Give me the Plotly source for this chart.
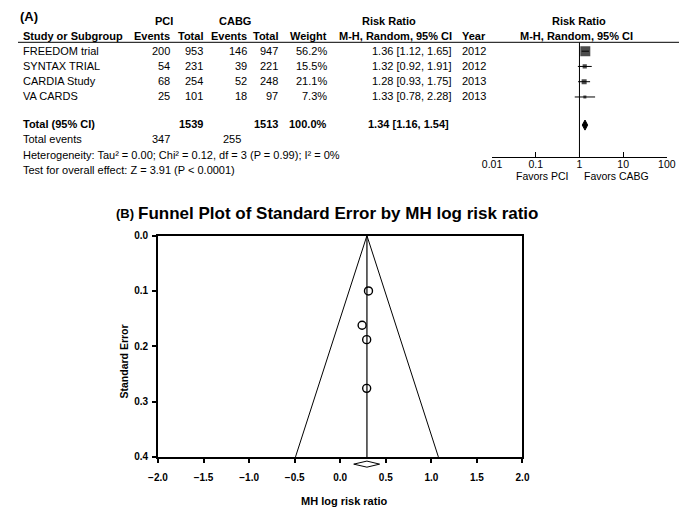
import plotly.graph_objects as go

# the page body adds an 8px margin, so the figure is drawn 8px smaller and shifted
OFF = 8
W, H = 688 - OFF, 514 - OFF
FONT = 'Liberation Sans, Arial, sans-serif'

# --- (A) forest plot data ---
studies = ['FREEDOM trial', 'SYNTAX TRIAL', 'CARDIA Study', 'VA CARDS']
pci_events = [200, 54, 68, 25]
pci_total = [953, 231, 254, 101]
cabg_events = [146, 39, 52, 18]
cabg_total = [947, 221, 248, 97]
weights = [56.2, 15.5, 21.1, 7.3]
rr = [1.36, 1.32, 1.28, 1.33]
ci_low = [1.12, 0.92, 0.93, 0.78]
ci_high = [1.65, 1.91, 1.75, 2.28]
years = [2012, 2012, 2013, 2013]
pooled_rr = 1.34
pooled_low = 1.16
pooled_high = 1.54
total_pci = 1539
total_cabg = 1513
events_pci = 347
events_cabg = 255
forest_ticks = [0.01, 0.1, 1, 10, 100]
forest_ticklabels = ['0.01', '0.1', '1', '10', '100']

# --- (B) funnel plot data ---
funnel_logrr = [0.31, 0.29, 0.24, 0.29]
funnel_se = [0.100, 0.188, 0.162, 0.276]
pooled_log = 0.293
pooled_log_low = 0.148
pooled_log_high = 0.432
se_max = 0.4


def px(x):
    return max(x - OFF, 0) / W


def py(y):
    return 1 - max(y - OFF, 0) / H


annotations = []


def txt(s, x, y, anchor='left', size=11, bold=False):
    annotations.append(dict(
        text=s, x=px(x), y=py(y), xref='paper', yref='paper',
        xanchor=anchor, yanchor='middle', showarrow=False,
        font=dict(family=FONT, size=size, color='black',
                  weight='bold' if bold else 'normal')))


# table header
txt('(A)', 0, 11, size=13, bold=True)
txt('PCI', 158, 15, 'center', bold=True)
txt('CABG', 231, 15, 'center', bold=True)
txt('Risk Ratio', 390, 15, 'center', bold=True)
txt('Risk Ratio', 585, 15, 'center', bold=True)
txt('Study or Subgroup', 11, 31, bold=True)
txt('Events', 166, 31, 'right', bold=True)
txt('Total', 200, 31, 'right', bold=True)
txt('Events', 246, 31, 'right', bold=True)
txt('Total', 278, 31, 'right', bold=True)
txt('Weight', 328, 31, 'right', bold=True)
txt('M-H, Random, 95% CI', 457, 31, 'right', bold=True)
txt('Year', 463, 31, bold=True)
txt('M-H, Random, 95% CI', 583, 31, 'center', bold=True)

row_y0, row_step = 46, 15.5
for i, s in enumerate(studies):
    y = row_y0 + i * row_step
    txt(s, 11, y)
    txt(str(pci_events[i]), 166, y, 'right')
    txt(str(pci_total[i]), 200, y, 'right')
    txt(str(cabg_events[i]), 246, y, 'right')
    txt(str(cabg_total[i]), 278, y, 'right')
    txt(f'{weights[i]:.1f}%', 328, y, 'right')
    txt(f'{rr[i]:.2f} [{ci_low[i]:.2f}, {ci_high[i]:.2f}]', 457, y, 'right')
    txt(str(years[i]), 463, y)

total_row = 4.84
yt = row_y0 + total_row * row_step
txt('Total (95% CI)', 11, yt, bold=True)
txt(str(total_pci), 200, yt, 'right', bold=True)
txt(str(total_cabg), 278, yt, 'right', bold=True)
txt('100.0%', 328, yt, 'right', bold=True)
txt(f'{pooled_rr:.2f} [{pooled_low:.2f}, {pooled_high:.2f}]', 453, yt, 'right', bold=True)
txt('Total events', 11, yt + 15.5)
txt(str(events_pci), 166, yt + 15.5, 'right')
txt(str(events_cabg), 239, yt + 15.5, 'right')
txt('Heterogeneity: Tau² = 0.00; Chi² = 0.12, df = 3 (P = 0.99); I² = 0%', 11, yt + 31)
txt('Test for overall effect: Z = 3.91 (P < 0.0001)', 11, yt + 46.5)
txt('Favors PCI', 548, 174, 'center', size=10.5)
txt('Favors CABG', 624, 174, 'center', size=10.5)

# funnel titles
txt('(B)', 107, 212, size=13, bold=True)
txt('Funnel Plot of Standard Error by MH log risk ratio', 129, 212, size=17, bold=True)
txt('MH log risk ratio', 343, 507, 'center', size=11, bold=True)
annotations.append(dict(
    text='Standard Error', x=px(117), y=py(364), xref='paper', yref='paper',
    textangle=-90, showarrow=False, xanchor='center', yanchor='middle',
    font=dict(family=FONT, size=10.5, color='black', weight='bold')))

fig = go.Figure()

# forest: study squares with CI whiskers
rows = list(range(len(studies)))
sizes = [2 + 8 * w / max(weights) for w in weights]
fig.add_trace(go.Scatter(
    x=rr, y=rows, mode='markers', xaxis='x', yaxis='y',
    marker=dict(symbol='square', size=sizes, color='black', line=dict(width=0)),
    error_x=dict(type='data', symmetric=False,
                 array=[h - r for h, r in zip(ci_high, rr)],
                 arrayminus=[r - l for r, l in zip(rr, ci_low)],
                 color='black', thickness=1, width=0)))

forest_top, forest_bottom = -0.58, 6.9
fig.add_trace(go.Scatter(
    x=[1, 1], y=[forest_top, forest_bottom], mode='lines', xaxis='x', yaxis='y',
    line=dict(color='black', width=1)))

dh = 0.33
fig.add_trace(go.Scatter(
    x=[pooled_low, pooled_rr, pooled_high, pooled_rr, pooled_low],
    y=[total_row, total_row - dh, total_row, total_row + dh, total_row],
    mode='lines', fill='toself', fillcolor='black', xaxis='x', yaxis='y',
    line=dict(color='black', width=1)))

# funnel
fig.add_trace(go.Scatter(
    x=[pooled_log - 1.96 * se_max, pooled_log, pooled_log + 1.96 * se_max],
    y=[se_max, 0, se_max], mode='lines', xaxis='x2', yaxis='y2',
    line=dict(color='black', width=1)))
fig.add_trace(go.Scatter(
    x=[pooled_log, pooled_log], y=[0, se_max], mode='lines', xaxis='x2', yaxis='y2',
    line=dict(color='black', width=1.2)))
fig.add_trace(go.Scatter(
    x=funnel_logrr, y=funnel_se, mode='markers', xaxis='x2', yaxis='y2',
    marker=dict(symbol='circle-open', size=8, color='black', line=dict(width=1.4))))

# pooled diamond below the funnel axis, on an overlay axis pair
yd = 0.413
fig.add_trace(go.Scatter(
    x=[pooled_log_low, pooled_log, pooled_log_high, pooled_log, pooled_log_low],
    y=[yd, yd - 0.0055, yd, yd + 0.0055, yd],
    mode='lines', xaxis='x3', yaxis='y3', line=dict(color='black', width=1)))

fig.update_layout(
    width=W, height=H,
    margin=dict(l=0, r=0, t=0, b=0),
    paper_bgcolor='white', plot_bgcolor='white',
    showlegend=False,
    font=dict(family=FONT, color='black'),
    annotations=annotations,
    shapes=[dict(type='line', xref='paper', yref='paper',
                 x0=px(7), x1=1, y0=py(37), y1=py(37),
                 line=dict(color='black', width=1))],
    xaxis=dict(type='log', domain=[px(495.7), px(675.5)], range=[-2, 2],
               anchor='y', tickvals=forest_ticks, ticktext=forest_ticklabels,
               ticks='inside', ticklen=5, tickcolor='black', showline=True,
               linecolor='black', linewidth=1, showgrid=False, zeroline=False,
               ticklabelstandoff=-2, tickfont=dict(size=10.5)),
    yaxis=dict(domain=[py(154), py(37)], range=[forest_bottom, forest_top],
               anchor='x', visible=False),
    xaxis2=dict(domain=[px(152), px(527)], range=[-2, 2], anchor='y2',
                dtick=0.5, tick0=0, tickformat='.1f', ticks='outside', ticklen=4,
                tickwidth=1.5, tickcolor='black', showline=True, mirror=True,
                linecolor='black', linewidth=1.8, showgrid=False, zeroline=False,
                ticklabelstandoff=6, tickfont=dict(size=10, weight='bold')),
    yaxis2=dict(domain=[py(461.7), py(235)], range=[se_max, 0], anchor='x2',
                dtick=0.1, tick0=0, tickformat='.1f', ticks='outside', ticklen=4,
                tickwidth=1.5, tickcolor='black', showline=True, mirror=True,
                linecolor='black', linewidth=1.8, showgrid=False, zeroline=False,
                ticklabelstandoff=2, tickfont=dict(size=10, weight='bold')),
    xaxis3=dict(domain=[px(152), px(527)], range=[-2, 2], anchor='y3', visible=False),
    yaxis3=dict(domain=[py(478.7), py(461.7)], range=[0.43, 0.40], anchor='x3',
                visible=False),
)

fig.write_html('out.html')
